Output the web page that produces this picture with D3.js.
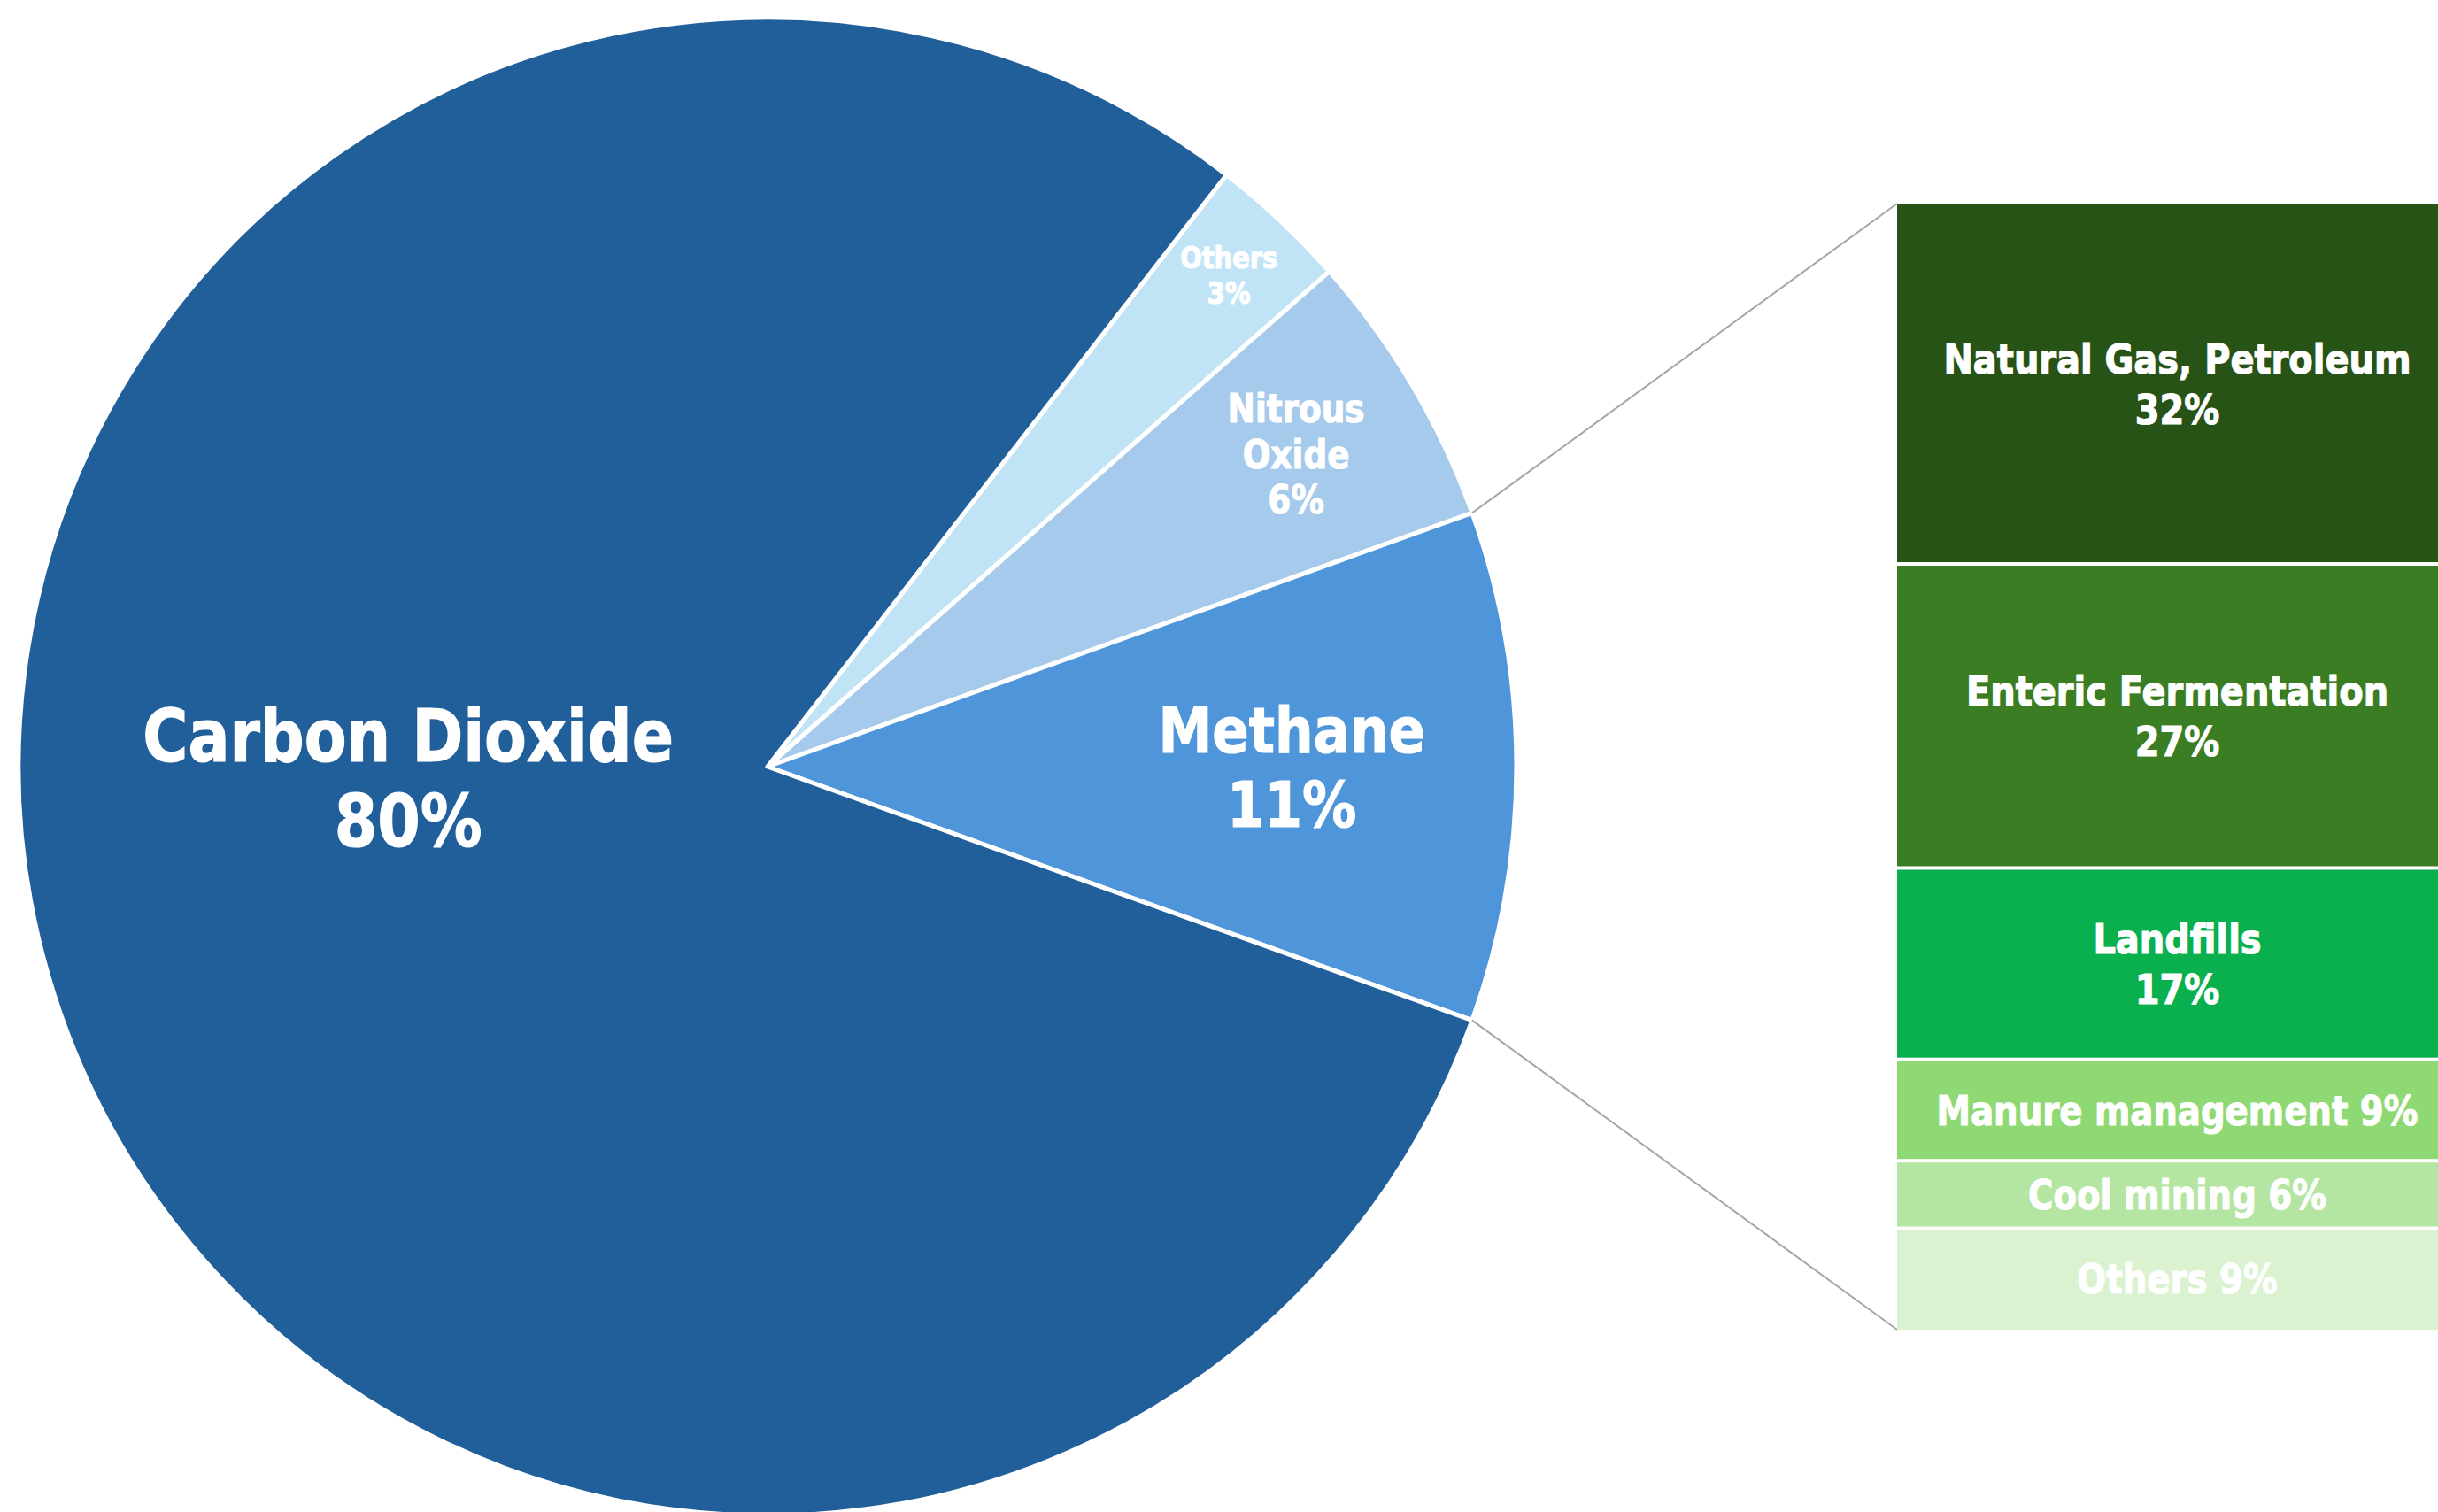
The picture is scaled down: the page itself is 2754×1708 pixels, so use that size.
<!DOCTYPE html>
<html>
<head>
<meta charset="utf-8">
<script src="https://cdn.jsdelivr.net/npm/d3@7"></script>
<style>
  html, body { margin: 0; padding: 0; background: #ffffff; overflow: hidden; }
  svg { display: block; }
  text { font-family: "DejaVu Sans", Verdana, sans-serif; font-weight: bold; fill: #ffffff; stroke: #ffffff; stroke-width: 1.2px; }
</style>
</head>
<body>
<svg id="chart" width="2754" height="1708"></svg>
<script>
// ---------- DATA ----------
const pieCategories = ["Others", "Nitrous Oxide", "Methane", "Carbon Dioxide"];
const pieValues = [3, 6, 11, 80];
const pieLabelNames = [["Others"], ["Nitrous", "Oxide"], ["Methane"], ["Carbon Dioxide"]];

const barCategories = ["Natural Gas, Petroleum", "Enteric Fermentation", "Landfills", "Manure management", "Cool mining", "Others"];
const barValues = [32, 27, 17, 9, 6, 9];
const barLabelSplit = [true, true, true, false, false, false]; // two-line label (name / value)

// ---------- STYLE ----------
const pieColors = ["#C0E4F5", "#A6CAEC", "#4E95D9", "#215F9A"];
const barColors = ["#275317", "#3B7D23", "#0AAF4E", "#8ED973", "#B4E5A2", "#DAF2D0"];
const pieFontSizes = [34, 44, 72, 82];
const pieLabelRadius = [0.90, 0.82, 0.70, 0.48];
const pieLabelAngle = [null, null, null, 4.683];
const barFontSizes = [47, 47, 47, 45.5, 45.5, 45.5];
const xScaleText = 0.85;

const W = 2754, H = 1708;
const cx = 867, cy = 866, R = 846;
const barX0 = 2143, barX1 = 2776, barY0 = 230, barY1 = 1502;

const svg = d3.select("#chart");

// ---------- PIE ----------
const startA = (90 - 52.2) * Math.PI / 180;
const pie = d3.pie().sort(null).value(d => d).startAngle(startA).endAngle(startA + 2 * Math.PI);
const arcs = pie(pieValues);
const arc = d3.arc().innerRadius(0).outerRadius(R);

const g = svg.append("g").attr("transform", `translate(${cx},${cy})`);
g.selectAll("path.slice").data(arcs).join("path")
  .attr("class", "slice")
  .attr("d", arc)
  .attr("fill", (d, i) => pieColors[i])
  .attr("stroke", "#ffffff")
  .attr("stroke-width", 5)
  .attr("stroke-linejoin", "round");

function writeLines(parent, x, y, lines, fs, lh) {
  const cap = 0.729 * fs;
  const first = -(lines.length - 1) * lh / 2 + cap / 2;
  const t = parent.append("g").attr("transform", `translate(${x},${y}) scale(${xScaleText},1)`)
    .append("text").attr("text-anchor", "middle").attr("font-size", fs);
  lines.forEach((ln, k) => {
    t.append("tspan").attr("x", 0).attr("y", first + k * lh).text(ln);
  });
}

arcs.forEach((d, i) => {
  const a = pieLabelAngle[i] !== null ? pieLabelAngle[i] : (d.startAngle + d.endAngle) / 2;
  const rr = pieLabelRadius[i] * R;
  const x = Math.sin(a) * rr, y = -Math.cos(a) * rr;
  const lines = pieLabelNames[i].concat([pieValues[i] + "%"]);
  const fs = pieFontSizes[i];
  writeLines(g, x, y, lines, fs, fs * 1.17);
});

// ---------- BAR ----------
const yScale = d3.scaleLinear().domain([0, d3.sum(barValues)]).range([barY0, barY1]);
const stackStarts = d3.cumsum([0].concat(barValues.slice(0, -1)));
const gap = 4;
const n = barValues.length;

const bars = svg.append("g");
barValues.forEach((v, i) => {
  let y = yScale(stackStarts[i]);
  let y2 = yScale(stackStarts[i] + v);
  if (i > 0) y += gap / 2;
  if (i < n - 1) y2 -= gap / 2;
  bars.append("rect")
    .attr("x", barX0).attr("y", y)
    .attr("width", barX1 - barX0).attr("height", y2 - y)
    .attr("fill", barColors[i]);
  const lines = barLabelSplit[i] ? [barCategories[i], v + "%"] : [barCategories[i] + " " + v + "%"];
  const mid = (yScale(stackStarts[i]) + yScale(stackStarts[i] + v)) / 2;
  writeLines(bars, (barX0 + barX1) / 2, mid, lines, barFontSizes[i], barFontSizes[i] * 1.21);
});

// ---------- CONNECTORS ----------
const m = arcs[2];
const pTop = [cx + Math.sin(m.startAngle) * R, cy - Math.cos(m.startAngle) * R];
const pBot = [cx + Math.sin(m.endAngle) * R, cy - Math.cos(m.endAngle) * R];
svg.append("line").attr("x1", pTop[0]).attr("y1", pTop[1]).attr("x2", barX0).attr("y2", yScale(0))
  .attr("stroke", "#A6A6A6").attr("stroke-width", 2);
svg.append("line").attr("x1", pBot[0]).attr("y1", pBot[1]).attr("x2", barX0).attr("y2", yScale(d3.sum(barValues)))
  .attr("stroke", "#A6A6A6").attr("stroke-width", 2);
</script>
</body>
</html>
